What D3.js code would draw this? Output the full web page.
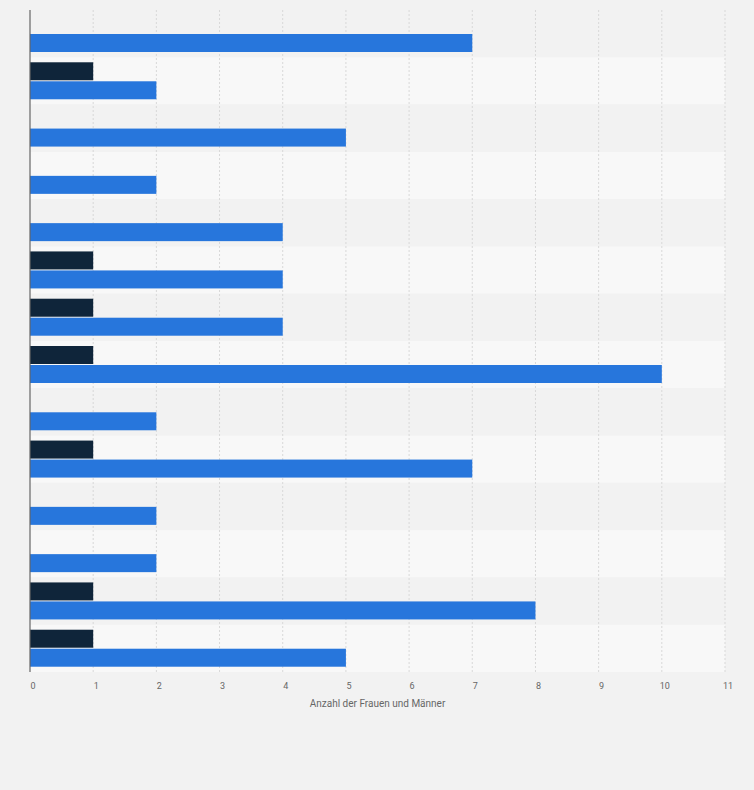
<!DOCTYPE html>
<html>
<head>
<meta charset="utf-8">
<script src="https://cdn.jsdelivr.net/npm/d3@7"></script>
<style>
  body { margin: 0; background: #f2f2f2; }
  text { font-family: Roboto, "Open Sans", sans-serif; }
</style>
</head>
<body>
<div id="chart"></div>
<script>
// values, one row per (unlabelled) category
var categories = d3.range(14).map(function (i) { return "c" + i; });
var frauen = [0, 1, 0, 0, 0, 1, 1, 1, 0, 1, 0, 0, 1, 1];
var maenner = [7, 2, 5, 2, 4, 4, 4, 10, 2, 7, 2, 2, 8, 5];
var ticks = d3.range(0, 12);

var W = 754, H = 790;
var m = { top: 10, right: 29, bottom: 118, left: 30 };
var w = W - m.left - m.right, h = H - m.top - m.bottom;

var svg = d3.select("#chart").append("svg")
  .attr("width", W).attr("height", H);
var g = svg.append("g").attr("transform", "translate(" + m.left + "," + m.top + ")");

var x = d3.scaleLinear().domain([0, 11]).range([0, w]);
var y = d3.scaleBand().domain(categories).range([0, h]);

// alternating row stripes
g.selectAll("rect.band").data(categories).enter().append("rect")
  .attr("x", 0).attr("y", function (d) { return y(d); })
  .attr("width", w).attr("height", y.bandwidth())
  .attr("fill", function (d, i) { return i % 2 ? "#f8f8f8" : "#f2f2f2"; });

// vertical grid
g.selectAll("line.grid").data(ticks.slice(1)).enter().append("line")
  .attr("x1", x).attr("x2", x).attr("y1", 0).attr("y2", h)
  .attr("stroke", "#d8d8d8").attr("stroke-dasharray", "2,2");

var barH = 18;
g.selectAll("rect.f").data(frauen).enter().append("rect")
  .attr("x", 0)
  .attr("y", function (d, i) { return y(categories[i]) + 5; })
  .attr("width", function (d) { return x(d); })
  .attr("height", barH)
  .attr("fill", "#0f253a");

g.selectAll("rect.m").data(maenner).enter().append("rect")
  .attr("x", 0)
  .attr("y", function (d, i) { return y(categories[i]) + 24; })
  .attr("width", function (d) { return x(d); })
  .attr("height", barH)
  .attr("fill", "#2776dc");

g.append("line").attr("x1", 0).attr("x2", 0).attr("y1", 0).attr("y2", h)
  .attr("stroke", "#666").attr("stroke-width", 1.2);

g.selectAll("text.tick").data(ticks).enter().append("text")
  .attr("x", function (d) { return x(d) + 3; })
  .attr("y", h + 17)
  .attr("text-anchor", "middle")
  .attr("font-size", 9).attr("fill", "#666")
  .text(function (d) { return d; });

g.append("text")
  .attr("x", w / 2).attr("y", h + 35)
  .attr("text-anchor", "middle")
  .attr("font-size", 10).attr("fill", "#666")
  .text("Anzahl der Frauen und Männer");
</script>
</body>
</html>
